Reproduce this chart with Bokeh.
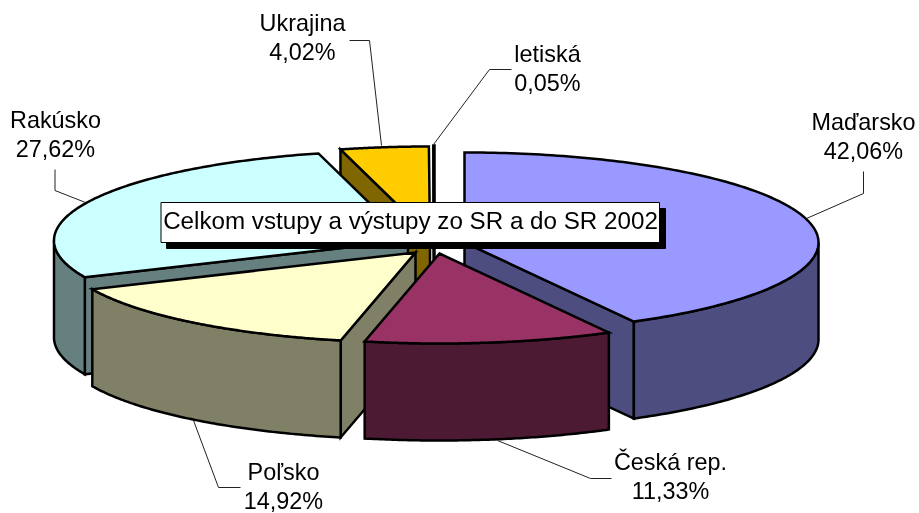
import numpy as np
from bokeh.plotting import figure
from bokeh.core.properties import value
from bokeh.embed import file_html
from bokeh.resources import INLINE

# ---- chart data (clockwise from 12 o'clock) ----
categories = ["Maďarsko", "Česká rep.", "Poľsko", "Rakúsko", "Ukrajina", "letiská"]
shares = [42.06, 11.33, 14.92, 27.62, 4.02, 0.05]
percent_labels = ["42,06%", "11,33%", "14,92%", "27,62%", "4,02%", "0,05%"]
title_text = "Celkom vstupy a výstupy zo SR a do SR 2002"

# ---- styling and layout ----
top_colors = ["#9999FF", "#993366", "#FFFFCC", "#CCFFFF", "#FFCC00", "#0066CC"]
side_colors = ["#4D4D80", "#4D1A33", "#808066", "#668080", "#806600", "#003366"]
apex = [(464, 242), (439, 253), (415, 252), (407.5, 240), (429.5, 236), (434, 235)]
draw_order = [5, 4, 3, 0, 2, 1]
RX, RY, DEPTH = 354.0, 90.0, 97.0
FONT = "Liberation Sans"
LABEL_FS = "23.4px"
TITLE_FS = "24.2px"
BASE_SHIFT = 9  # the SVG text sits this far below the requested baseline
label_pos = [(863, 130), (670, 470), (283, 480), (55, 128), (302, 31), (547, 62)]
LINE_GAP = 29
leaders = [
    [(863, 171), (863, 193), (806, 218)],
    [(611, 478), (590, 478), (497, 440)],
    [(240, 487), (218, 487), (193, 420)],
    [(54.5, 169), (54.5, 190), (85, 202)],
    [(349, 40), (369, 40), (381, 145)],
    [(511, 69), (489, 69), (433, 144)],
]

p = figure(width=919, height=513, x_range=(0, 919), y_range=(513, 0),
           output_backend="svg", toolbar_location=None, min_border=0,
           styles={"position": "fixed", "left": "0", "top": "0"})
p.axis.visible = False
p.grid.visible = False
p.outline_line_color = None
p.background_fill_color = "white"
p.border_fill_color = "white"

total = sum(shares)
edges = np.concatenate([[0.0], np.cumsum(shares)]) / total * 2 * np.pi


def rim(i, a):
    cx, cy = apex[i]
    return cx + RX * np.sin(a), cy - RY * np.cos(a)


def poly(xs, ys, color):
    p.patch(list(xs), list(ys), fill_color=color, line_color="black",
            line_width=2.5, line_join="miter")


for i in draw_order:
    a0, a1 = edges[i], edges[i + 1]
    cx, cy = apex[i]
    # visible straight cut wall
    for a, vis in ((a0, np.sin(a0) < -1e-9), (a1, np.sin(a1) > 1e-9)):
        if vis:
            rx, ry = rim(i, a)
            poly([cx, rx, rx, cx], [cy, ry, ry + DEPTH, cy + DEPTH], side_colors[i])
    # visible part of the outer wall (front half of the ellipse)
    lo, hi = max(a0, np.pi / 2), min(a1, 3 * np.pi / 2)
    if hi > lo:
        t = np.linspace(lo, hi, 80)
        x, y = rim(i, t)
        poly(np.r_[x, x[::-1]], np.r_[y, y[::-1] + DEPTH], side_colors[i])
    # top face
    t = np.linspace(a0, a1, 160)
    x, y = rim(i, t)
    poly(np.r_[cx, x], np.r_[cy, y], top_colors[i])

# leader lines
for pts in leaders:
    p.line([q[0] for q in pts], [q[1] for q in pts], line_color="#222222", line_width=1)

# labels
for i, (lx, ly) in enumerate(label_pos):
    p.text([lx, lx], [ly - BASE_SHIFT, ly + LINE_GAP - BASE_SHIFT],
           text=[categories[i], percent_labels[i]],
           text_font=value(FONT), text_font_size=value(LABEL_FS), text_color="black",
           text_align="center", text_baseline="alphabetic")

# chart title box with shadow
p.quad(left=[166], right=[665], top=[208], bottom=[248], fill_color="black", line_color="black", line_width=1)
p.quad(left=[160.5], right=[659], top=[202], bottom=[242], fill_color="white", line_color="black", line_width=1)
p.text([410], [229 - BASE_SHIFT], text=[title_text], text_font=value(FONT), text_font_size=value(TITLE_FS),
       text_color="black", text_align="center", text_baseline="alphabetic")

open("out.html", "w").write(file_html(p, INLINE))
